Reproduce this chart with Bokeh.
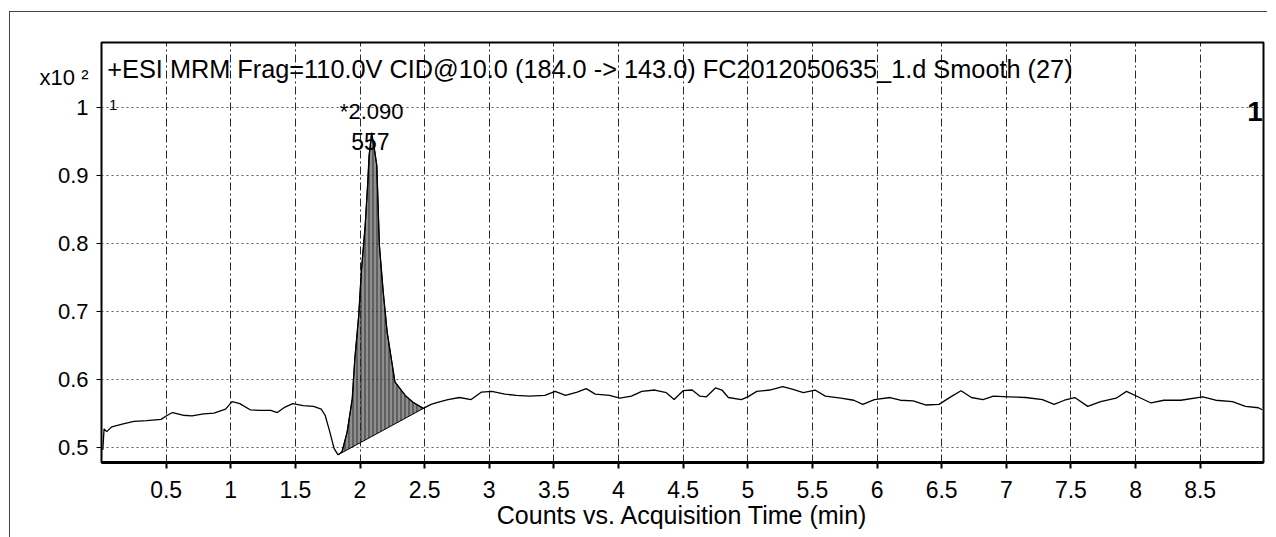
import numpy as np
from bokeh.plotting import figure
from bokeh.models import Label, FixedTicker
from bokeh.embed import file_html
from bokeh.resources import INLINE

# ---- data ----
time_min = [0.01, 0.02, 0.04, 0.08, 0.16, 0.25, 0.35, 0.46, 0.51, 0.55, 0.63, 0.70,
            0.79, 0.87, 0.96, 1.01, 1.07, 1.15, 1.23, 1.31, 1.36, 1.42, 1.48, 1.56,
            1.64, 1.70, 1.73, 1.76, 1.80, 1.83, 1.86, 1.90, 1.94, 1.96, 1.99, 2.01,
            2.04, 2.06, 2.07, 2.09, 2.11, 2.13, 2.15, 2.18, 2.21, 2.27, 2.35, 2.41,
            2.49, 2.55, 2.60, 2.68, 2.77, 2.86, 2.94, 3.02, 3.12, 3.21, 3.31, 3.43,
            3.51, 3.59, 3.68, 3.75, 3.82, 3.93, 4.01, 4.10, 4.18, 4.28, 4.37, 4.43,
            4.50, 4.57, 4.63, 4.68, 4.75, 4.80, 4.85, 4.95, 5.00, 5.07, 5.17, 5.27,
            5.35, 5.43, 5.52, 5.60, 5.72, 5.82, 5.89, 5.98, 6.10, 6.18, 6.28, 6.38,
            6.48, 6.57, 6.65, 6.73, 6.82, 6.90, 7.02, 7.15, 7.28, 7.37, 7.45, 7.53,
            7.63, 7.73, 7.85, 7.93, 8.03, 8.12, 8.22, 8.35, 8.52, 8.62, 8.75, 8.85,
            8.95, 8.98]
counts = [0.497, 0.528, 0.524, 0.531, 0.535, 0.539, 0.540, 0.542, 0.548, 0.552, 0.548, 0.547,
          0.550, 0.551, 0.557, 0.568, 0.565, 0.556, 0.555, 0.555, 0.552, 0.560, 0.565, 0.562,
          0.561, 0.557, 0.548, 0.528, 0.499, 0.490, 0.494, 0.523, 0.572, 0.631, 0.694, 0.758,
          0.826, 0.889, 0.928, 0.962, 0.940, 0.914, 0.797, 0.728, 0.670, 0.597, 0.577, 0.567,
          0.558, 0.564, 0.567, 0.571, 0.574, 0.571, 0.582, 0.583, 0.579, 0.577, 0.576, 0.577,
          0.583, 0.577, 0.582, 0.587, 0.579, 0.577, 0.573, 0.576, 0.583, 0.585, 0.581, 0.571,
          0.584, 0.585, 0.576, 0.575, 0.588, 0.585, 0.574, 0.571, 0.575, 0.583, 0.585, 0.590,
          0.586, 0.581, 0.585, 0.576, 0.573, 0.570, 0.564, 0.571, 0.574, 0.570, 0.569, 0.563,
          0.564, 0.575, 0.584, 0.574, 0.571, 0.576, 0.575, 0.574, 0.571, 0.564, 0.570, 0.574,
          0.561, 0.568, 0.573, 0.583, 0.574, 0.566, 0.570, 0.570, 0.575, 0.570, 0.568, 0.561,
          0.559, 0.556]

peak_start = 1.83
peak_end = 2.49
peak_time = "2.090"
peak_area = "557"

x_ticks = [0.5, 1, 1.5, 2, 2.5, 3, 3.5, 4, 4.5, 5, 5.5, 6, 6.5, 7, 7.5, 8, 8.5]
x_tick_labels = ["0.5", "1", "1.5", "2", "2.5", "3", "3.5", "4", "4.5", "5", "5.5",
                 "6", "6.5", "7", "7.5", "8", "8.5"]
y_ticks = [0.5, 0.6, 0.7, 0.8, 0.9, 1.0]
y_tick_labels = ["0.5", "0.6", "0.7", "0.8", "0.9", "1"]
y_multiplier = "x10 \u00b2"
y_multiplier_pos = 1.044

title_text = "+ESI MRM Frag=110.0V CID@10.0 (184.0 -> 143.0) FC2012050635_1.d  Smooth (27)"
x_title = "Counts vs. Acquisition Time (min)"

FONT = "Liberation Sans"

p = figure(width=1267, height=537, output_backend="svg", toolbar_location=None,
           x_range=(0, 8.99), y_range=(0.4787, 1.0946),
           min_border_left=101, min_border_right=4, min_border_top=42, min_border_bottom=75)
p.background_fill_color = "white"
p.border_fill_color = None
p.outline_line_color = "black"
p.outline_line_width = 2
# thin frame of the scanned page (drawn behind the transparent canvas border)
p.styles = {
    "background-color": "white",
    "background-image": "linear-gradient(#444, #444), linear-gradient(#444, #444)",
    "background-size": "1px 100%, 100% 1px",
    "background-position": "9px 11px, 9px 11px",
    "background-repeat": "no-repeat",
}

# x axis
p.xaxis.ticker = FixedTicker(ticks=x_ticks)
p.xaxis.major_label_overrides = {float(t): l for t, l in zip(x_ticks, x_tick_labels)}
p.xaxis.axis_label = x_title
p.xaxis.axis_label_text_font = FONT
p.xaxis.axis_label_text_font_size = "25px"
p.xaxis.axis_label_text_font_style = "normal"
p.xaxis.axis_label_text_color = "black"
p.xaxis.axis_label_standoff = 0
p.xaxis.major_label_text_font_size = "23px"
p.xaxis.axis_line_width = 3
p.xaxis.major_tick_line_width = 2
p.xaxis.major_tick_out = 6
p.xaxis.major_label_standoff = 12

# y axis: tick marks drawn as "minor" ticks so the multiplier label gets no mark
p.yaxis.ticker = FixedTicker(ticks=y_ticks + [y_multiplier_pos], minor_ticks=y_ticks)
overrides = {float(t): l for t, l in zip(y_ticks, y_tick_labels)}
overrides[y_multiplier_pos] = y_multiplier
p.yaxis.major_label_overrides = overrides
p.yaxis.major_label_text_font_size = "22px"
p.yaxis.axis_line_width = 1
p.yaxis.major_tick_line_color = None
p.yaxis.major_tick_out = 5
p.yaxis.major_tick_in = 0
p.yaxis.minor_tick_line_color = "black"
p.yaxis.minor_tick_out = 5
p.yaxis.minor_tick_in = 0
p.yaxis.major_label_standoff = 8

for ax in (p.xaxis, p.yaxis):
    ax.major_label_text_font = FONT
    ax.major_label_text_color = "black"
    ax.axis_line_color = "black"
p.xaxis.minor_tick_line_color = None
p.xaxis.major_tick_in = 0
p.xaxis.major_tick_line_color = "black"

# grid
p.xgrid.ticker = FixedTicker(ticks=x_ticks)
p.ygrid.ticker = FixedTicker(ticks=y_ticks)
p.xgrid.grid_line_color = "#111111"
p.xgrid.grid_line_dash = "8 3 2 3"
p.xgrid.grid_line_alpha = 0.9
p.ygrid.grid_line_color = "#333333"
p.ygrid.grid_line_dash = "2 3"
p.ygrid.grid_line_alpha = 0.8

# integrated peak area (between trace and straight baseline)
t_arr = np.array(time_min)
c_arr = np.array(counts)
mask = (t_arr >= peak_start) & (t_arr <= peak_end)
p.patch(t_arr[mask], c_arr[mask], fill_color="#2a2a2a", fill_alpha=0.75,
        hatch_pattern="vertical_line", hatch_color="white", hatch_alpha=0.6, hatch_scale=4,
        line_color="black", line_width=1)

# trace
p.line(time_min, counts, line_color="black", line_width=1.3)

def lab(x, y, text, size, align="center", style="normal"):
    p.add_layout(Label(x=x, y=y, text=text, text_align=align, text_baseline="alphabetic",
                       text_font=FONT, text_font_size=size, text_font_style=style,
                       text_color="black"))

# peak labels and integration markers
lab(2.09, 0.994, "*" + peak_time, "22px")
lab(2.08, 0.950, peak_area, "23px")
lab(0.09, 1.003, "1", "15px")
lab(8.985, 0.993, "1", "28px", align="right", style="bold")

# title inside plot area
lab(0.045, 1.056, title_text, "25.3px", align="left")

open("out.html", "w").write(file_html(p, INLINE))
